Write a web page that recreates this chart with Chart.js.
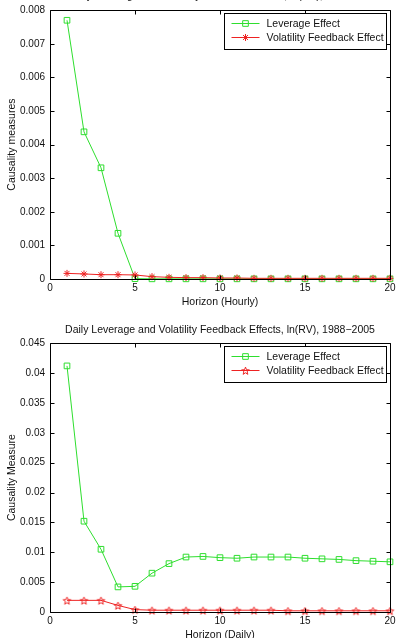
<!DOCTYPE html>
<html><head><meta charset="utf-8">
<script src="https://cdn.jsdelivr.net/npm/chart.js@4.4.0/dist/chart.umd.min.js"></script>
<style>
html,body{margin:0;padding:0;background:#fff;width:408px;height:638px;overflow:hidden;position:relative}
.wrap{position:absolute;left:0;width:408px;height:335px}
#w1{top:-23px}
#w2{top:310px}
</style></head><body>
<div class="wrap" id="w1"><canvas id="c1" width="408" height="335"></canvas></div>
<div class="wrap" id="w2"><canvas id="c2" width="408" height="335"></canvas></div>
<script>
// ---- data ----
const horizons = [1,2,3,4,5,6,7,8,9,10,11,12,13,14,15,16,17,18,19,20];
const hourlyLeverage = [0.0077,0.00438,0.00331,0.00136,0.00001,0.000005,0.000005,0.000005,0.000005,0.000005,0.000005,0.000005,0.000005,0.000005,0.000005,0.000005,0.000005,0.000005,0.000005,0.000005];
const hourlyVolatility = [0.000167,0.00015,0.000128,0.000128,0.00012,0.00007,0.00005,0.00004,0.00004,0.00003,0.00003,0.00002,0.00002,0.00002,0.00002,0.00002,0.00002,0.00002,0.00002,0.00002];
const dailyLeverage = [0.0412,0.0152,0.0105,0.0042,0.0043,0.0065,0.0081,0.0092,0.0093,0.0091,0.0090,0.0092,0.0092,0.0092,0.0090,0.0089,0.0088,0.0086,0.0085,0.0084];
const dailyVolatility = [0.00195,0.00195,0.00195,0.0011,0.0004,0.0003,0.0003,0.0003,0.0003,0.0003,0.0003,0.0003,0.0003,0.0002,0.0002,0.0002,0.0002,0.0002,0.0002,0.0002];
const xTicks = [0,5,10,15,20];
const hourlyYTicks = [0,0.001,0.002,0.003,0.004,0.005,0.006,0.007,0.008];
const dailyYTicks = [0,0.005,0.01,0.015,0.02,0.025,0.03,0.035,0.04,0.045];
const seriesLabels = ['Leverage Effect','Volatility Feedback Effect'];

// ---- styling ----
const FONT = '"Liberation Sans", Arial, Helvetica, sans-serif';
const TXT = '#111';
const GREEN = '#2ede2e';
const RED = '#ee2222';
Chart.defaults.font.family = FONT;
Chart.defaults.color = TXT;

function pentagram(color, r){
  const s = Math.ceil(2*r + 3);
  const c = document.createElement('canvas');
  c.width = s; c.height = s;
  const g = c.getContext('2d');
  g.strokeStyle = color; g.lineWidth = 1;
  g.beginPath();
  for (let i = 0; i < 10; i++){
    const ang = -Math.PI/2 + i*Math.PI/5;
    const rr = (i % 2) ? r*0.42 : r;
    g.lineTo(s/2 + rr*Math.cos(ang), s/2 + 0.6 + rr*Math.sin(ang));
  }
  g.closePath(); g.stroke();
  return c;
}
const starImg = pentagram(RED, 4);

const matlabBox = {
  id: 'matlabBox',
  afterDatasetsDraw(chart){
    const {ctx, chartArea: a, scales: {x, y}} = chart;
    ctx.save();
    ctx.strokeStyle = '#000'; ctx.lineWidth = 1;
    const L = Math.round(a.left)+0.5, R = Math.round(a.right)+0.5, T = Math.round(a.top)+0.5, B = Math.round(a.bottom)+0.5;
    ctx.beginPath();
    ctx.rect(L, T, R-L, B-T);
    x.ticks.forEach(t => {
      const px = Math.round(x.getPixelForValue(t.value))+0.5;
      ctx.moveTo(px, B); ctx.lineTo(px, B-4);
      ctx.moveTo(px, T); ctx.lineTo(px, T+4);
    });
    y.ticks.forEach(t => {
      const py = Math.round(y.getPixelForValue(t.value))+0.5;
      ctx.moveTo(L, py); ctx.lineTo(L+4, py);
      ctx.moveTo(R, py); ctx.lineTo(R-4, py);
    });
    ctx.stroke();
    ctx.restore();
  }
};

const boxLegend = {
  id: 'boxLegend',
  afterDraw(chart){
    const {ctx, chartArea: a} = chart;
    const ds = chart.data.datasets;
    ctx.save();
    ctx.font = '10.5px ' + FONT;
    const tw = Math.max(...ds.map(d => ctx.measureText(d.label).width));
    const w = Math.round(7 + 28 + 7 + tw + 3), h = 36;
    const x0 = Math.round(a.right - 4 - w) + 0.5, y0 = Math.round(a.top + 3) + 0.5;
    ctx.fillStyle = '#fff'; ctx.fillRect(x0, y0, w, h);
    ctx.strokeStyle = '#000'; ctx.lineWidth = 1; ctx.strokeRect(x0, y0, w, h);
    ds.forEach((d, i) => {
      const yy = y0 + 10 + 14*i;
      ctx.strokeStyle = d.borderColor; ctx.lineWidth = 1;
      ctx.beginPath(); ctx.moveTo(x0+7, yy); ctx.lineTo(x0+35, yy); ctx.stroke();
      ctx.fillStyle = 'rgba(0,0,0,0)';
      ctx.strokeStyle = d.pointBorderColor;
      Chart.helpers.drawPoint(ctx, {pointStyle: d.pointStyle, radius: d.pointRadius, rotation: 0, borderWidth: 1}, x0+21, yy);
      ctx.fillStyle = TXT; ctx.textBaseline = 'middle'; ctx.textAlign = 'left';
      ctx.fillText(d.label, x0 + 42, yy + 0.5);
    });
    ctx.restore();
  }
};

function makeChart(id, title, xTitle, yTitle, lev, vol, yTicks, yMax, volStyle, volRadius, titlePad){
  return new Chart(document.getElementById(id), {
    type: 'line',
    data: {
      datasets: [
        {label: seriesLabels[0], data: horizons.map((h,i)=>({x:h, y:lev[i]})), borderColor: GREEN, pointBorderColor: GREEN,
         backgroundColor: 'rgba(0,0,0,0)', pointBackgroundColor: 'rgba(0,0,0,0)', borderWidth: 1, pointBorderWidth: 1,
         pointStyle: 'rect', pointRadius: 4, tension: 0, clip: false, order: 1},
        {label: seriesLabels[1], data: horizons.map((h,i)=>({x:h, y:vol[i]})), borderColor: RED, pointBorderColor: RED,
         backgroundColor: 'rgba(0,0,0,0)', pointBackgroundColor: 'rgba(0,0,0,0)', borderWidth: 1, pointBorderWidth: 1,
         pointStyle: volStyle, pointRadius: volRadius, tension: 0, clip: false, order: 0}
      ]
    },
    options: {
      responsive: false, animation: false, events: [],
      layout: {padding: {left: 0, right: 18, top: 0, bottom: 0}},
      plugins: {
        legend: {display: false}, tooltip: {enabled: false},
        title: {display: true, text: title, fullSize: false, color: TXT, font: {size: 10.5, weight: 'normal', family: FONT}, padding: titlePad}
      },
      scales: {
        x: {type: 'linear', min: 0, max: 20,
            afterBuildTicks: s => { s.ticks = xTicks.map(v => ({value: v})); },
            afterFit: s => { s.height = 33; },
            ticks: {padding: 3, color: TXT, font: {size: 10}, maxRotation: 0, autoSkip: false, callback: v => String(v)},
            grid: {display: false, drawTicks: false}, border: {display: false},
            title: {display: true, text: xTitle, color: TXT, font: {size: 10.5}, padding: {top: 4, bottom: 4}}},
        y: {type: 'linear', min: 0, max: yMax,
            afterBuildTicks: s => { s.ticks = yTicks.map(v => ({value: v})); },
            afterFit: s => { s.width = 50; },
            ticks: {padding: 5, color: TXT, font: {size: 10}, autoSkip: false, callback: v => String(v)},
            grid: {display: false, drawTicks: false}, border: {display: false},
            title: {display: true, text: yTitle, color: TXT, font: {size: 10.5}, padding: {top: 6, bottom: 6}}}
      }
    },
    plugins: [matlabBox, boxLegend]
  });
}

makeChart('c1', 'Hourly Leverage and Volatility Feedback Effects, ln(RV), 1988\u22122005', 'Horizon (Hourly)', 'Causality measures',
  hourlyLeverage, hourlyVolatility, hourlyYTicks, 0.008, 'star', 3.5, {top: 13, bottom: 7.6});
makeChart('c2', 'Daily Leverage and Volatility Feedback Effects, ln(RV), 1988\u22122005', 'Horizon (Daily)', 'Causality Measure',
  dailyLeverage, dailyVolatility, dailyYTicks, 0.045, starImg, 4, {top: 14, bottom: 6.6});
</script>
</body></html>
